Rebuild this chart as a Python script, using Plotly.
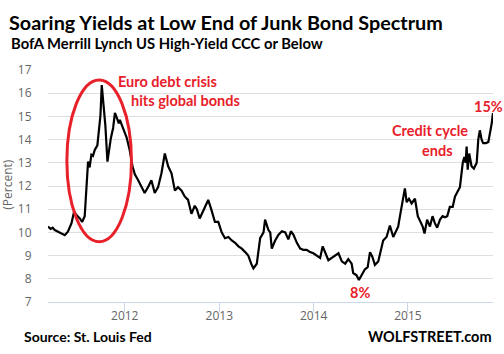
import plotly.graph_objects as go

# ---- data ----
dates = [
    "2011-03-10", "2011-03-20", "2011-03-28", "2011-04-05", "2011-04-18", "2011-04-30",
    "2011-05-14", "2011-05-26", "2011-06-09", "2011-06-19", "2011-06-28", "2011-07-11",
    "2011-07-20", "2011-07-30", "2011-08-06", "2011-08-12", "2011-08-18", "2011-08-25",
    "2011-08-31", "2011-09-07", "2011-09-17", "2011-09-23", "2011-09-29", "2011-10-04",
    "2011-10-11", "2011-10-18", "2011-10-26", "2011-10-31", "2011-11-08", "2011-11-17",
    "2011-11-24", "2011-12-01", "2011-12-09", "2011-12-13", "2011-12-22", "2012-01-01",
    "2012-01-08", "2012-01-20", "2012-01-31", "2012-02-09", "2012-02-22", "2012-03-06",
    "2012-03-18", "2012-03-31", "2012-04-13", "2012-04-26", "2012-05-09", "2012-05-22",
    "2012-06-04", "2012-06-17", "2012-06-30", "2012-07-13", "2012-07-25", "2012-08-08",
    "2012-08-20", "2012-09-02", "2012-09-15", "2012-09-28", "2012-10-06", "2012-10-17",
    "2012-10-30", "2012-11-19", "2012-12-02", "2012-12-15", "2012-12-28", "2013-01-10",
    "2013-01-23", "2013-02-05", "2013-02-18", "2013-03-03", "2013-03-16", "2013-03-29",
    "2013-04-11", "2013-04-23", "2013-05-06", "2013-05-13", "2013-05-26", "2013-06-08",
    "2013-06-21", "2013-06-27", "2013-07-04", "2013-07-10", "2013-07-17", "2013-07-23",
    "2013-08-05", "2013-08-18", "2013-08-31", "2013-09-13", "2013-09-25", "2013-10-05",
    "2013-10-15", "2013-10-28", "2013-11-10", "2013-11-22", "2013-12-05", "2013-12-18",
    "2013-12-31", "2014-01-13", "2014-01-26", "2014-02-05", "2014-02-14", "2014-02-27",
    "2014-03-12", "2014-03-25", "2014-04-07", "2014-04-20", "2014-05-03", "2014-05-15",
    "2014-05-28", "2014-06-03", "2014-06-16", "2014-06-25", "2014-07-06", "2014-07-18",
    "2014-07-29", "2014-08-07", "2014-08-16", "2014-08-26", "2014-09-08", "2014-09-18",
    "2014-09-27", "2014-10-10", "2014-10-23", "2014-11-05", "2014-11-11", "2014-11-24",
    "2014-12-01", "2014-12-11", "2014-12-20", "2014-12-27", "2015-01-05", "2015-01-15",
    "2015-01-28", "2015-02-08", "2015-02-20", "2015-02-27", "2015-03-06", "2015-03-16",
    "2015-03-27", "2015-04-06", "2015-04-15", "2015-04-24", "2015-05-05", "2015-05-15",
    "2015-05-24", "2015-06-02", "2015-06-12", "2015-06-23", "2015-07-02", "2015-07-11",
    "2015-07-21", "2015-08-01", "2015-08-07", "2015-08-12", "2015-08-16", "2015-08-20",
    "2015-08-26", "2015-09-04", "2015-09-13", "2015-09-24", "2015-09-30", "2015-10-06",
    "2015-10-13", "2015-10-19", "2015-10-30", "2015-11-08", "2015-11-14", "2015-11-21",
    "2015-11-26",
]
yields = [
    10.25, 10.15, 10.2, 10.1, 10.03, 9.95,
    9.88, 10.03, 10.4, 10.9, 10.75, 10.6,
    10.45, 10.7, 12.05, 13.05, 12.8, 13.35,
    13.3, 13.55, 13.75, 14.6, 15.05, 16.35,
    15.5, 14.6, 13.05, 13.5, 14.05, 14.5,
    15.15, 14.95, 14.7, 14.85, 14.55, 14.3,
    14.1, 13.55, 12.85, 12.5, 12.25, 11.95,
    11.7, 11.95, 12.25, 11.7, 11.95, 12.55,
    13.4, 12.85, 12.55, 11.8, 11.95, 11.8,
    11.55, 11.4, 10.8, 11.15, 11.0, 10.6,
    10.9, 11.4, 10.95, 10.45, 10.45, 10.0,
    9.75, 9.8, 9.65, 9.55, 9.4, 9.3,
    9.15, 9.0, 8.6, 8.45, 8.65, 9.75,
    10.0, 10.55, 10.3, 10.1, 10.0, 9.3,
    9.65, 9.9, 10.05, 10.0, 9.7, 10.05,
    9.9, 9.55, 9.3, 9.25, 9.25, 9.15,
    9.1, 9.0, 8.9, 9.4, 9.15, 8.8,
    8.9, 9.0, 9.1, 8.75, 8.65, 8.85,
    8.65, 8.25, 8.15, 7.95, 8.15, 8.4,
    8.5, 9.15, 8.95, 8.6, 8.75, 9.25,
    9.65, 9.8, 10.3, 9.8, 9.95, 10.25,
    10.7, 11.25, 11.9, 11.3, 11.45, 11.25,
    11.45, 10.7, 10.4, 10.25, 9.95, 10.55,
    10.25, 10.7, 10.4, 10.2, 10.55, 10.7,
    10.65, 10.7, 11.1, 11.1, 11.55, 11.75,
    11.95, 13.0, 13.25, 13.0, 13.7, 12.7,
    13.4, 12.85, 12.75, 13.0, 14.0, 14.4,
    14.0, 13.85, 13.85, 13.9, 14.25, 14.7,
    15.15,
]
y_ticks = [7, 8, 9, 10, 11, 12, 13, 14, 15, 16, 17]
x_tick_dates = ["2012-01-01", "2013-01-01", "2014-01-01", "2015-01-01"]
x_tick_labels = ["2012", "2013", "2014", "2015"]

title_text = "Soaring Yields at Low End of Junk Bond Spectrum"
subtitle_text = "BofA Merrill Lynch US High-Yield CCC or Below"
RED = "#e8202a"

# plot area in pixels: left 48, right 493, top 70, bottom 302.5
L, R, T, B = 48, 493, 70, 302.5
W, H = 504, 354


def px(x):
    return (x - L) / (R - L)


def py(y):
    return (B - y) / (B - T)


fig = go.Figure()
fig.add_trace(go.Scatter(x=dates, y=yields, mode="lines",
                         line=dict(color="black", width=2.2), hoverinfo="skip"))

fig.update_layout(
    width=W, height=H,
    margin=dict(l=L, r=W - R, t=T, b=H - B),
    paper_bgcolor="white", plot_bgcolor="white",
    showlegend=False,
    font=dict(family="Open Sans", color="#666666"),
)
fig.update_xaxes(
    range=[dates[0], dates[-1]],
    tickvals=x_tick_dates, ticktext=x_tick_labels,
    showgrid=False, zeroline=False,
    showline=True, linecolor="#ccd6eb", linewidth=1,
    ticks="outside", ticklen=9, tickcolor="#ccd6eb", tickwidth=1,
    ticklabelstandoff=-6,
    tickfont=dict(size=12, color="#666666", family="Open Sans"),
)
fig.update_yaxes(
    range=[7, 17], tickvals=y_ticks,
    showgrid=True, gridcolor="#dedede", gridwidth=1, zeroline=False,
    showline=False,
    ticks="outside", ticklen=13, tickcolor="rgba(0,0,0,0)",
    tickfont=dict(size=12, color="#666666", family="Open Sans"),
)

# red ellipse around the euro crisis spike
fig.add_shape(type="circle", xref="x", yref="y",
              x0="2011-05-22", x1="2012-01-27", y0=9.6, y1=16.57,
              line=dict(color=RED, width=3), fillcolor="rgba(0,0,0,0)")

bold = "Lato"
anns = [
    dict(text="<b>" + title_text + "</b>", x=px(7), y=py(22), xanchor="left", yanchor="middle",
         font=dict(family=bold, size=19.8, color="black")),
    dict(text="<b>" + subtitle_text + "</b>", x=px(9), y=py(43), xanchor="left", yanchor="middle",
         font=dict(family=bold, size=14.8, color="black")),
    dict(text="(Percent)", x=px(8), y=py(185), xanchor="center", yanchor="middle", textangle=-90,
         font=dict(family="Open Sans", size=12, color="#666666")),
    dict(text="<b>Euro debt crisis</b>", x=px(167), y=py(82), xanchor="center", yanchor="middle",
         font=dict(family=bold, size=14.5, color=RED)),
    dict(text="<b>hits global bonds</b>", x=px(185.5), y=py(101), xanchor="center", yanchor="middle",
         font=dict(family=bold, size=14.5, color=RED)),
    dict(text="<b>Credit cycle</b>", x=px(430), y=py(131), xanchor="center", yanchor="middle",
         font=dict(family=bold, size=14.5, color=RED)),
    dict(text="<b>ends</b>", x=px(437.5), y=py(151), xanchor="center", yanchor="middle",
         font=dict(family=bold, size=14.5, color=RED)),
    dict(text="<b>15%</b>", x=px(488.5), y=py(107), xanchor="center", yanchor="middle",
         font=dict(family=bold, size=14.5, color=RED)),
    dict(text="<b>8%</b>", x=px(359.5), y=py(293), xanchor="center", yanchor="middle",
         font=dict(family=bold, size=14.5, color=RED)),
    dict(text="<b>Source: St. Louis Fed</b>", x=px(22), y=py(337), xanchor="left", yanchor="middle",
         font=dict(family=bold, size=14, color="black")),
    dict(text="<b>WOLFSTREET.com</b>", x=px(494), y=py(337), xanchor="right", yanchor="middle",
         font=dict(family=bold, size=14.5, color="black")),
]
for a in anns:
    fig.add_annotation(xref="paper", yref="paper", showarrow=False, **a)

fig.write_html("out.html")
